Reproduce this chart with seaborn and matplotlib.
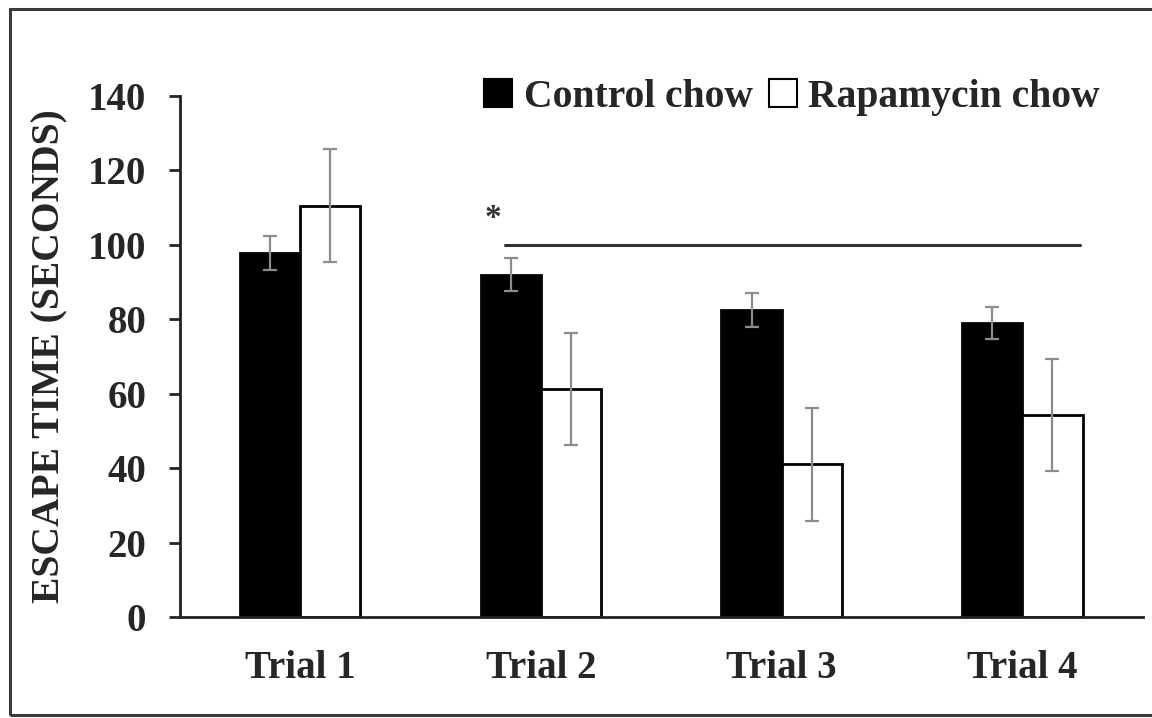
import seaborn as sns
import matplotlib.pyplot as plt
import pandas as pd
from matplotlib.patches import Rectangle, Patch

# Dados
trials = ['Trial 1', 'Trial 2', 'Trial 3', 'Trial 4']
groups = ['Control chow', 'Rapamycin chow']
control_mean = [97.8, 92.0, 82.5, 79.0]
control_err = [4.6, 4.5, 4.5, 4.3]
rapa_mean = [110.5, 61.3, 41.0, 54.3]
rapa_err = [15.2, 15.0, 15.2, 15.0]

df = pd.DataFrame({
    'trial': trials * 2,
    'group': [groups[0]] * 4 + [groups[1]] * 4,
    'time': control_mean + rapa_mean,
})

sns.set_style('white')
plt.rcParams['font.family'] = ['Liberation Serif', 'DejaVu Serif']
plt.rcParams['font.weight'] = 'bold'

fig = plt.figure(figsize=(11.52, 7.18), dpi=100)
ax = fig.add_axes([0.156, 0.1407, 0.836, 0.7256])

sns.barplot(data=df, x='trial', y='time', hue='group', order=trials,
            hue_order=groups, palette=['black', 'white'], edgecolor='black',
            linewidth=2, width=0.5, errorbar=None, legend=False, ax=ax)

# Barras de erro (cinza)
for cont, errs in zip(ax.containers, [control_err, rapa_err]):
    xs = [b.get_x() + b.get_width() / 2 for b in cont]
    ys = [b.get_height() for b in cont]
    ax.errorbar(xs, ys, yerr=errs, fmt='none', ecolor='#8c8c8c',
                elinewidth=1.6, capsize=5, capthick=1.6, zorder=5)

# Linha de significância
ax.plot([0.85, 3.24], [100, 100], color='#333333', lw=2.2)
ax.text(0.80, 103, '*', ha='center', va='bottom', fontsize=24,
        color='#333333', fontweight='bold')

ax.set_ylim(0, 140)
ax.set_xlim(-0.5, 3.5)
ax.set_yticks(range(0, 141, 20))
ax.set_xlabel('')
ax.set_ylabel('ESCAPE TIME (SECONDS)', fontsize=28.5, fontweight='bold', labelpad=14)
ax.tick_params(axis='y', direction='out', length=8, width=2, labelsize=28, pad=16,
               left=True)
ax.tick_params(axis='x', length=0, labelsize=28, pad=24)
for lbl in ax.get_xticklabels() + ax.get_yticklabels():
    lbl.set_fontweight('bold')

sns.despine(ax=ax)
for s in ['left', 'bottom']:
    ax.spines[s].set_linewidth(2)
    ax.spines[s].set_color('#222222')

handles = [Patch(facecolor='black', edgecolor='black', lw=1.5),
           Patch(facecolor='white', edgecolor='black', lw=1.5)]
ax.legend(handles, groups, loc='center', bbox_to_anchor=(0.636, 0.998), ncol=2,
          frameon=False, handlelength=0.7, handleheight=0.7,
          handletextpad=0.3, columnspacing=0.4, prop={'weight': 'bold', 'size': 28.5})

# Moldura externa
fig.patches.append(Rectangle((10 / 1152, 3 / 718), 1.1, 706 / 718,
                             transform=fig.transFigure, fill=False,
                             edgecolor='#3a3a3a', lw=2.2))

plt.savefig('out.png', dpi=100)
